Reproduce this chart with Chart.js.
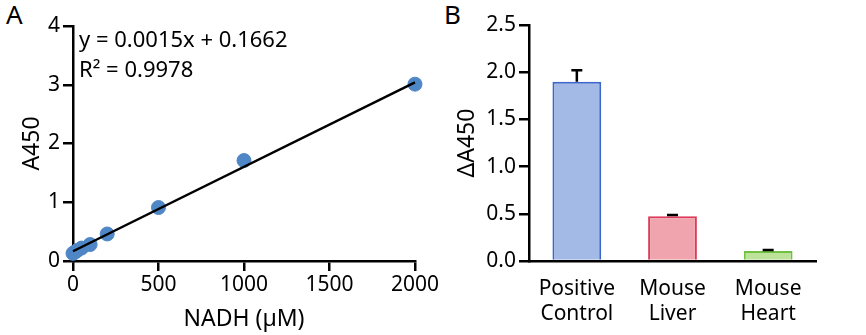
<!DOCTYPE html>
<html><head><meta charset="utf-8">
<script src="https://cdn.jsdelivr.net/npm/chart.js@4"></script>
<style>
html,body{margin:0;padding:0;background:#fff;}
#wrap{position:relative;width:866px;height:335px;}
.p{position:absolute;top:0;}
.lbl{position:absolute;font-family:"Noto Sans",sans-serif;font-size:26px;line-height:26px;color:#000;}
</style></head><body>
<div id="wrap">
  <div class="lbl" style="left:6px;top:1px;">A</div>
  <div class="lbl" style="left:444px;top:1px;">B</div>
  <canvas id="ca" class="p" style="left:0" width="440" height="335"></canvas>
  <canvas id="cb" class="p" style="left:440px" width="426" height="335"></canvas>
</div>
<script>
// Panel A data
const nadhConc = [0, 10, 25, 50, 100, 200, 500, 1000, 2000];
const a450 = [0.13, 0.15, 0.18, 0.22, 0.28, 0.46, 0.91, 1.71, 3.01];
const fitX = [0, 2000];
const fitY = [0.166, 3.04];
const fitText = ["y = 0.0015x + 0.1662", "R\u00B2 = 0.9978"];
// Panel B data
const groups = [["Positive", "Control"], ["Mouse", "Liver"], ["Mouse", "Heart"]];
const deltaA450 = [1.90, 0.475, 0.105];
const errUp = [0.12, 0.012, 0.012];

const FONT = '"Noto Sans", sans-serif';
Chart.defaults.font.family = FONT;
Chart.defaults.color = '#000';
Chart.defaults.animation = false;

const axisStyle = () => ({
  border: {display: true, color: '#000', width: 2.5},
  grid: {display: true, drawOnChartArea: false, drawTicks: true, tickLength: 10, color: '#000', tickColor: '#000', lineWidth: 2.5, tickWidth: 2.5},
});

const annot = {
  id: 'annot',
  afterDraw(chart) {
    const ctx = chart.ctx;
    ctx.save();
    ctx.fillStyle = '#000';
    ctx.font = '22px ' + FONT;
    ctx.textBaseline = 'middle';
    ctx.fillText(fitText[0], 79, 41);
    ctx.fillText(fitText[1], 79, 71);
    ctx.restore();
  }
};

new Chart(document.getElementById('ca'), {
  type: 'scatter',
  data: {
    datasets: [
      {type: 'line', data: fitX.map((x, i) => ({x, y: fitY[i]})), borderColor: '#000', borderWidth: 2.5, pointRadius: 0, order: 1},
      {data: nadhConc.map((x, i) => ({x, y: a450[i]})), backgroundColor: '#4f86c6', borderColor: '#4f86c6', pointRadius: 7, order: 2}
    ]
  },
  options: {
    responsive: false,
    clip: false,
    layout: {padding: {top: 26, right: 25, left: 0, bottom: 0}},
    plugins: {legend: {display: false}, tooltip: {enabled: false}},
    scales: {
      x: {
        type: 'linear', min: 0, max: 2000,
        ...axisStyle(),
        ticks: {stepSize: 500, font: {size: 21}, padding: 1, maxRotation: 0, callback: v => String(v)},
        title: {display: true, text: 'NADH (\u00B5M)', font: {size: 23}, padding: {top: 0, bottom: 2}},
        afterFit(s) { s.height = 74; }
      },
      y: {
        min: 0, max: 4,
        ...axisStyle(),
        ticks: {stepSize: 1, font: {size: 21}, padding: 3},
        title: {display: true, text: 'A450', font: {size: 23}, padding: {top: 19, bottom: 0}},
        afterFit(s) { s.width = 73; }
      }
    }
  },
  plugins: [annot]
});

const errPlugin = {
  id: 'errbars',
  afterDatasetsDraw(chart) {
    const ctx = chart.ctx;
    const meta = chart.getDatasetMeta(0);
    const ys = chart.scales.y;
    ctx.save();
    ctx.strokeStyle = '#000';
    ctx.lineWidth = 2.5;
    meta.data.forEach((bar, i) => {
      const x = bar.x;
      const y0 = ys.getPixelForValue(deltaA450[i]);
      const y1 = ys.getPixelForValue(deltaA450[i] + errUp[i]);
      ctx.beginPath();
      ctx.moveTo(x, y0); ctx.lineTo(x, y1);
      ctx.moveTo(x - 5.5, y1); ctx.lineTo(x + 5.5, y1);
      ctx.stroke();
    });
    ctx.restore();
  }
};

new Chart(document.getElementById('cb'), {
  type: 'bar',
  data: {
    labels: groups,
    datasets: [{
      data: deltaA450,
      backgroundColor: ['#a3bae6', '#f0a5ae', '#bde29a'],
      borderColor: ['#3d66cc', '#dc3a58', '#72c043'],
      borderWidth: 2,
      borderSkipped: 'bottom',
      barPercentage: 0.51,
      categoryPercentage: 1.0
    }]
  },
  options: {
    responsive: false,
    layout: {padding: {top: 25, right: 50, left: 0, bottom: 0}},
    plugins: {legend: {display: false}, tooltip: {enabled: false}},
    scales: {
      x: {
        border: {display: true, color: '#000', width: 2.5},
        grid: {display: false},
        ticks: {font: {size: 21, lineHeight: 1.2}, padding: 7, maxRotation: 0},
        afterFit(s) { s.height = 74; }
      },
      y: {
        min: 0, max: 2.5,
        ...axisStyle(),
        ticks: {stepSize: 0.5, font: {size: 21}, padding: 3, callback: v => v.toFixed(1)},
        title: {display: true, text: '\u0394A450', font: {size: 23}, padding: {top: 14, bottom: 0}},
        afterFit(s) { s.width = 89; }
      }
    }
  },
  plugins: [errPlugin]
});
</script>
</body></html>
